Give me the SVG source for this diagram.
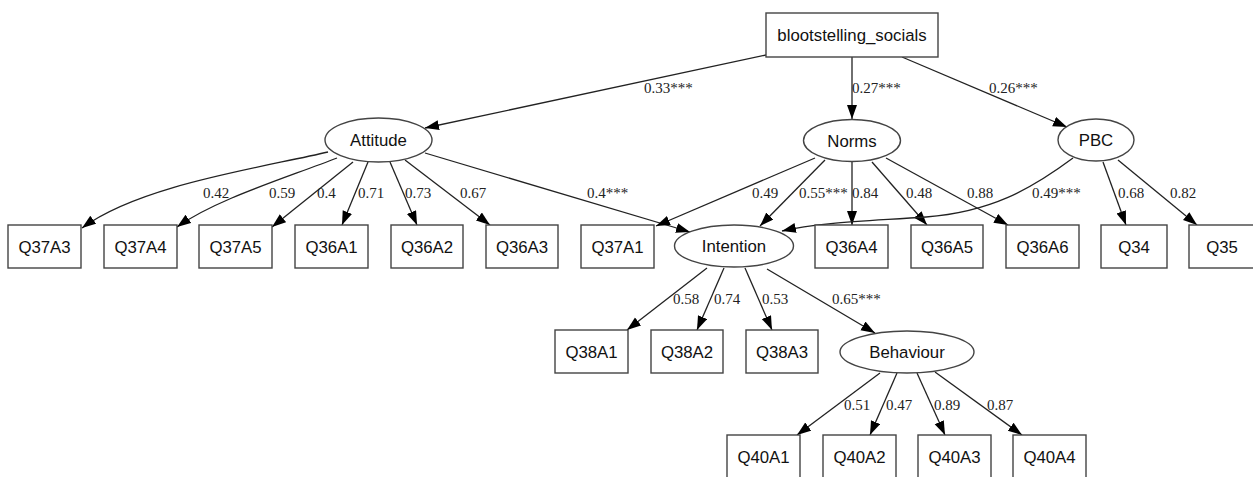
<svg xmlns="http://www.w3.org/2000/svg" width="1253" height="477" viewBox="0 0 1253 477">
<style>
.n rect, .n ellipse { fill: #fff; stroke: #444; stroke-width: 1.4; }
.n text { font-family: "Liberation Sans", Arial, sans-serif; font-size: 16.8px; fill: #111; text-anchor: middle; }
#edges path { fill: none; stroke: #222; stroke-width: 1.3; marker-end: url(#arr); }
#edges text { font-family: "Liberation Serif", "Times New Roman", serif; font-size: 15px; fill: #222; }
</style>
<defs>
<marker id="arr" markerUnits="userSpaceOnUse" markerWidth="15" markerHeight="11" refX="14" refY="5" orient="auto">
<path d="M0,0 L14,5 L0,10 z" fill="#000"/>
</marker>
</defs>
<rect width="1253" height="477" fill="#fff"/>
<g id="edges">
<path d="M766,55 L425,128"/>
<path d="M852,57 L852,119"/>
<path d="M902,57 L1067,127"/>
<path d="M328,152 C260,168 140,185 82,228"/>
<path d="M337,158 C280,180 215,200 177,227"/>
<path d="M353,162 L272,227"/>
<path d="M368,162 L342,225"/>
<path d="M390,162 L417,225"/>
<path d="M405,160 L490,225"/>
<path d="M425,153 L690,232"/>
<path d="M815,158 L656,226"/>
<path d="M825,160 L760,226"/>
<path d="M852,162 L852,225"/>
<path d="M872,162 L927,225"/>
<path d="M886,158 L1008,225"/>
<path d="M1073,158 C1030,190 990,212 926,217 C870,221 820,222 782,231"/>
<path d="M1103,162 L1126,225"/>
<path d="M1118,160 L1197,225"/>
<path d="M707,268 L627,330"/>
<path d="M724,268 L697,330"/>
<path d="M745,268 L772,330"/>
<path d="M767,269 L875,333"/>
<path d="M880,373 L797,435"/>
<path d="M897,373 L870,435"/>
<path d="M917,373 L945,435"/>
<path d="M935,372 L1022,435"/>
<text x="644" y="93">0.33***</text>
<text x="852" y="93">0.27***</text>
<text x="989" y="93">0.26***</text>
<text x="203" y="198">0.42</text>
<text x="269" y="198">0.59</text>
<text x="317" y="198">0.4</text>
<text x="358" y="198">0.71</text>
<text x="405" y="198">0.73</text>
<text x="460" y="198">0.67</text>
<text x="587" y="198">0.4***</text>
<text x="752" y="198">0.49</text>
<text x="799" y="198">0.55***</text>
<text x="852" y="198">0.84</text>
<text x="906" y="198">0.48</text>
<text x="967" y="198">0.88</text>
<text x="1032" y="198">0.49***</text>
<text x="1118" y="198">0.68</text>
<text x="1170" y="198">0.82</text>
<text x="673" y="304">0.58</text>
<text x="714" y="304">0.74</text>
<text x="762" y="304">0.53</text>
<text x="832" y="304">0.65***</text>
<text x="844" y="410">0.51</text>
<text x="886" y="410">0.47</text>
<text x="934" y="410">0.89</text>
<text x="987" y="410">0.87</text>
</g>
<g id="blootstelling_socials" class="n"><rect x="766" y="13" width="172" height="44"/><text x="852" y="41">blootstelling_socials</text></g>
<g id="Attitude" class="n"><ellipse cx="378.5" cy="140" rx="53.5" ry="22"/><text x="378.5" y="146">Attitude</text></g>
<g id="Norms" class="n"><ellipse cx="852" cy="140.5" rx="48.5" ry="21"/><text x="852" y="146.5">Norms</text></g>
<g id="PBC" class="n"><ellipse cx="1096" cy="140" rx="38" ry="21"/><text x="1096" y="146">PBC</text></g>
<g id="Intention" class="n"><ellipse cx="734" cy="246" rx="59.5" ry="21"/><text x="734" y="252">Intention</text></g>
<g id="Behaviour" class="n"><ellipse cx="907" cy="352" rx="67" ry="21"/><text x="907" y="358">Behaviour</text></g>
<g id="Q37A3" class="n"><rect x="8" y="225" width="73" height="43"/><text x="44.5" y="252.5">Q37A3</text></g>
<g id="Q37A4" class="n"><rect x="104" y="225" width="73" height="43"/><text x="140.5" y="252.5">Q37A4</text></g>
<g id="Q37A5" class="n"><rect x="199" y="225" width="73" height="43"/><text x="235.5" y="252.5">Q37A5</text></g>
<g id="Q36A1" class="n"><rect x="295" y="225" width="73" height="43"/><text x="331.5" y="252.5">Q36A1</text></g>
<g id="Q36A2" class="n"><rect x="391" y="225" width="72" height="43"/><text x="427" y="252.5">Q36A2</text></g>
<g id="Q36A3" class="n"><rect x="486" y="225" width="72" height="43"/><text x="522" y="252.5">Q36A3</text></g>
<g id="Q37A1" class="n"><rect x="581" y="225" width="73" height="43"/><text x="617.5" y="252.5">Q37A1</text></g>
<g id="Q36A4" class="n"><rect x="815" y="225" width="73" height="43"/><text x="851.5" y="252.5">Q36A4</text></g>
<g id="Q36A5" class="n"><rect x="911" y="225" width="72" height="43"/><text x="947" y="252.5">Q36A5</text></g>
<g id="Q36A6" class="n"><rect x="1006" y="225" width="73" height="43"/><text x="1042.5" y="252.5">Q36A6</text></g>
<g id="Q34" class="n"><rect x="1101" y="225" width="66" height="43"/><text x="1134" y="252.5">Q34</text></g>
<g id="Q35" class="n"><rect x="1189" y="225" width="66" height="43"/><text x="1222" y="252.5">Q35</text></g>
<g id="Q38A1" class="n"><rect x="555" y="330" width="73" height="43"/><text x="591.5" y="357.5">Q38A1</text></g>
<g id="Q38A2" class="n"><rect x="651" y="330" width="72" height="43"/><text x="687" y="357.5">Q38A2</text></g>
<g id="Q38A3" class="n"><rect x="746" y="330" width="72" height="43"/><text x="782" y="357.5">Q38A3</text></g>
<g id="Q40A1" class="n"><rect x="727" y="435" width="73" height="43"/><text x="763.5" y="462.5">Q40A1</text></g>
<g id="Q40A2" class="n"><rect x="823" y="435" width="73" height="43"/><text x="859.5" y="462.5">Q40A2</text></g>
<g id="Q40A3" class="n"><rect x="918" y="435" width="73" height="43"/><text x="954.5" y="462.5">Q40A3</text></g>
<g id="Q40A4" class="n"><rect x="1013" y="435" width="73" height="43"/><text x="1049.5" y="462.5">Q40A4</text></g>
</svg>
